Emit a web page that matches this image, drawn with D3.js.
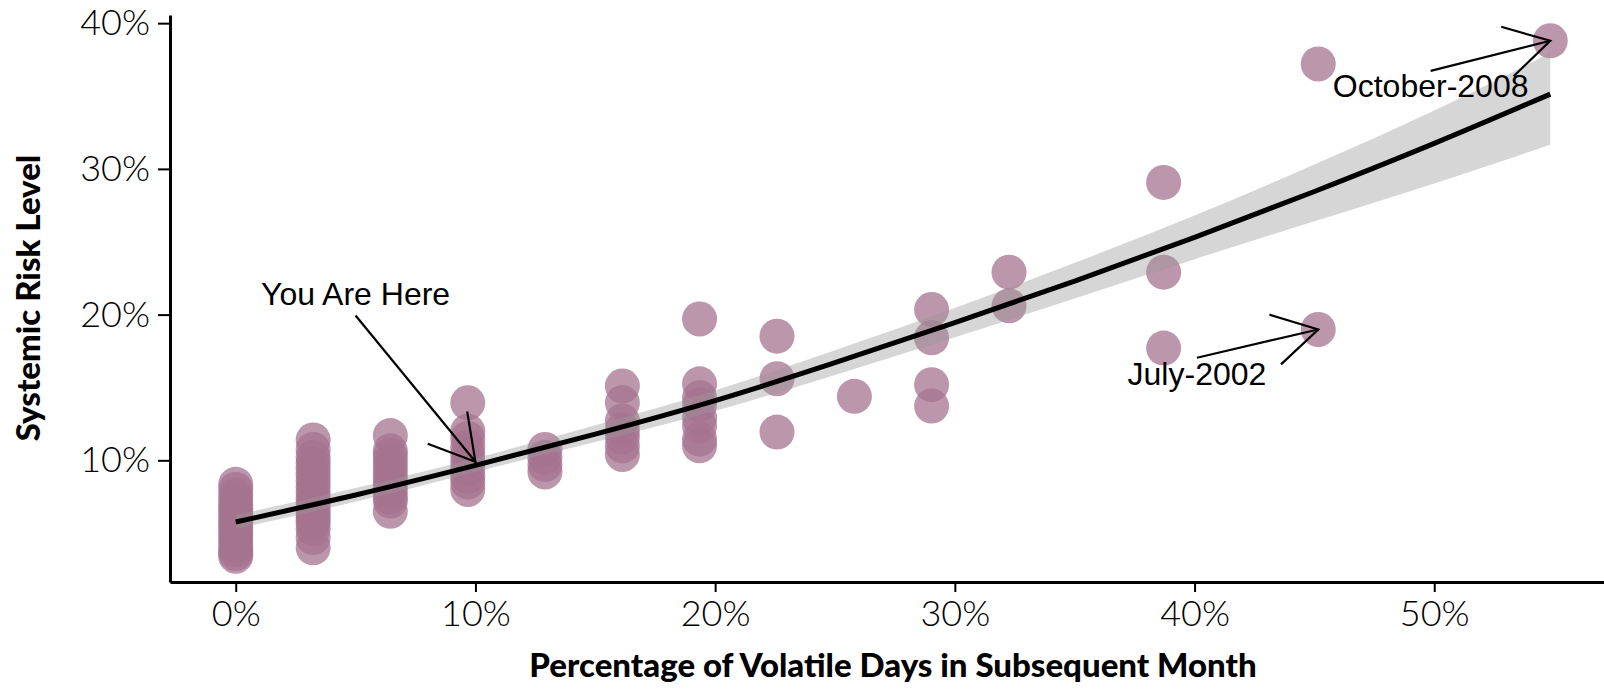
<!DOCTYPE html>
<html>
<head>
<meta charset="utf-8">
<script src="https://cdn.jsdelivr.net/npm/d3@7/dist/d3.min.js"></script>
<style>
  html, body { margin: 0; padding: 0; background: #ffffff; }
  svg { display: block; }
  .tick text { font-family: Lato, "Open Sans", sans-serif; font-weight: 300; fill: #000; }
  .axis-title { font-family: Lato, "Open Sans", sans-serif; font-weight: 900; fill: #000; }
  .note { font-family: "Liberation Sans", Arial, sans-serif; fill: #000; }
</style>
</head>
<body>
<svg id="chart" width="1604" height="692"></svg>
<script>
// Share of volatile days in the following month (x, %) and the
// systemic risk level observed for each month in that group (y, %).
const volatileDays = [0, 3.23, 6.45, 9.68, 12.9, 16.13, 19.35, 22.58, 25.81, 29.03, 32.26, 38.71, 45.16, 54.84];
const riskLevels = [
  [8.35, 8.0, 7.6, 7.25, 6.9, 6.6, 6.3, 6.0, 5.7, 5.4, 5.1, 4.8, 4.5, 4.15, 3.85, 3.6, 3.42],
  [11.4, 10.75, 10.2, 9.8, 9.4, 9.0, 8.6, 8.2, 7.8, 7.4, 7.0, 6.6, 6.3, 6.0, 5.7, 5.3, 4.7, 4.0],
  [11.7, 10.65, 10.3, 9.9, 9.5, 9.1, 8.7, 8.3, 7.9, 7.5, 7.2, 6.5],
  [13.95, 12.0, 11.5, 10.9, 10.4, 9.9, 9.4, 8.9, 8.5, 8.0],
  [10.75, 10.2, 9.7, 9.2],
  [15.1, 13.95, 12.7, 12.1, 11.6, 11.0, 10.4],
  [19.7, 15.25, 14.3, 13.8, 12.9, 12.35, 11.45, 11.0],
  [18.52, 15.6, 11.94],
  [14.39],
  [20.35, 18.41, 15.19, 13.72],
  [22.91, 20.6],
  [29.07, 22.91, 17.7],
  [37.2, 18.98],
  [38.79]
];

// Smoothed trend with its confidence band.
const fitX    = [0, 5, 10, 15, 20, 25, 30, 35, 40, 45, 50, 54.84];
const fitMid  = [5.77, 7.62, 9.65, 11.8, 14.1, 16.7, 19.45, 22.3, 25.3, 28.45, 31.75, 35.13];
const fitLow  = [5.3, 7.15, 9.2, 11.25, 13.4, 15.85, 18.45, 21.1, 23.8, 26.4, 29.0, 31.66];
const fitHigh = [6.25, 8.1, 10.15, 12.4, 14.8, 17.55, 20.45, 23.55, 26.8, 30.3, 34.0, 37.97];

const xTicks = [0, 10, 20, 30, 40, 50];
const yTicks = [10, 20, 30, 40];

// Callouts: label text, label anchor, arrow start and arrow tip (data units).
const noteText  = ["You Are Here", "July-2002", "October-2008"];
const noteX     = [5.0, 40.1, 49.85];
const noteY     = [20.69, 15.14, 34.95];
const arrowX0   = [5.0, 40.1, 49.85];
const arrowY0   = [19.94, 17.04, 36.73];
const arrowX1   = [10.0, 45.16, 54.84];
const arrowY1   = [9.9, 18.98, 38.79];

const svg = d3.select("#chart");

const x = d3.scaleLinear().domain([-2.742, 57.582]).range([170, 1616]);
const y = d3.scaleLinear().domain([1.65, 40.56]).range([582, 15]);

const points = [];
volatileDays.forEach((xv, i) => riskLevels[i].forEach(yv => points.push({ x: xv, y: yv })));

// Points
svg.append("g")
  .selectAll("circle")
  .data(points)
  .join("circle")
  .attr("cx", d => x(d.x))
  .attr("cy", d => y(d.y))
  .attr("r", 17.5)
  .attr("fill", "#A5738F")
  .attr("fill-opacity", 0.75);

// Confidence band
const band = fitX.map((v, i) => ({ x: v, lo: fitLow[i], hi: fitHigh[i], mid: fitMid[i] }));
svg.append("path")
  .datum(band)
  .attr("d", d3.area().x(d => x(d.x)).y0(d => y(d.lo)).y1(d => y(d.hi)).curve(d3.curveNatural))
  .attr("fill", "#999999")
  .attr("fill-opacity", 0.4);

// Trend line
svg.append("path")
  .datum(band)
  .attr("d", d3.line().x(d => x(d.x)).y(d => y(d.mid)).curve(d3.curveNatural))
  .attr("fill", "none")
  .attr("stroke", "#000")
  .attr("stroke-width", 5);

// Axes
const fmt = d => d + "%";
const xAxis = svg.append("g")
  .attr("transform", "translate(0,582)")
  .call(d3.axisBottom(x).tickValues(xTicks).tickFormat(fmt).tickSize(10).tickSizeOuter(0).tickPadding(8));
const yAxis = svg.append("g")
  .attr("transform", "translate(170,0)")
  .call(d3.axisLeft(y).tickValues(yTicks).tickFormat(fmt).tickSize(12).tickSizeOuter(0).tickPadding(8));

[xAxis, yAxis].forEach(g => {
  g.select(".domain").attr("stroke", "#000").attr("stroke-width", 3);
  g.selectAll(".tick line").attr("stroke", "#000").attr("stroke-width", 2);
  g.selectAll(".tick text").style("font-size", "36px");
});

svg.append("text")
  .attr("class", "axis-title")
  .attr("x", 893)
  .attr("y", 677)
  .attr("text-anchor", "middle")
  .style("font-size", "33px")
  .text("Percentage of Volatile Days in Subsequent Month");

svg.append("text")
  .attr("class", "axis-title")
  .attr("transform", "translate(40,298) rotate(-90)")
  .attr("text-anchor", "middle")
  .style("font-size", "33px")
  .text("Systemic Risk Level");

// Callouts with open arrowheads
const headLen = 51, headAngle = Math.PI / 6;
noteText.forEach((t, i) => {
  const sx = x(arrowX0[i]), sy = y(arrowY0[i]);
  const tx = x(arrowX1[i]), ty = y(arrowY1[i]);
  const ang = Math.atan2(sy - ty, sx - tx);
  const g = svg.append("g").attr("stroke", "#000").attr("stroke-width", 2.2).attr("fill", "none");
  g.append("line").attr("x1", sx).attr("y1", sy).attr("x2", tx).attr("y2", ty);
  g.append("polyline").attr("points", [
    [tx + headLen * Math.cos(ang + headAngle), ty + headLen * Math.sin(ang + headAngle)],
    [tx, ty],
    [tx + headLen * Math.cos(ang - headAngle), ty + headLen * Math.sin(ang - headAngle)]
  ].map(p => p.join(",")).join(" "));
  svg.append("text")
    .attr("class", "note")
    .attr("x", x(noteX[i]))
    .attr("y", y(noteY[i]))
    .attr("text-anchor", "middle")
    .style("font-size", "32px")
    .text(t);
});
</script>
</body>
</html>
